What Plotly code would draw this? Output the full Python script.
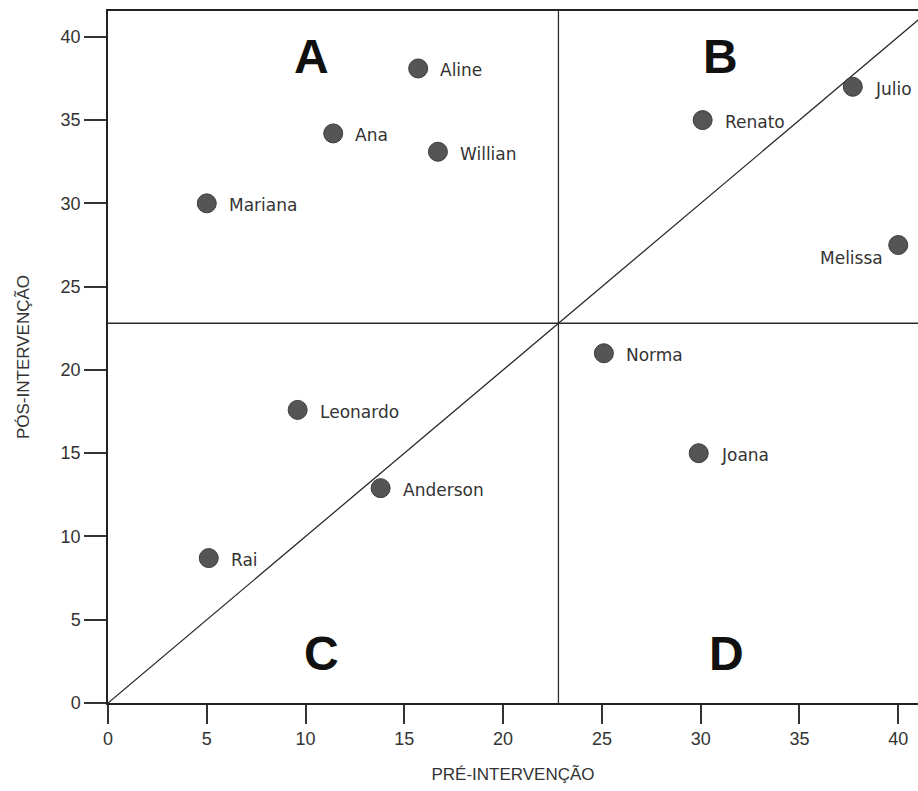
import plotly.graph_objects as go

names = ["Aline", "Ana", "Willian", "Mariana", "Renato", "Julio", "Melissa",
         "Norma", "Joana", "Leonardo", "Anderson", "Rai"]
pre = [15.7, 11.4, 16.7, 5.0, 30.1, 37.7, 40.0, 25.1, 29.9, 9.6, 13.8, 5.1]
pos = [38.1, 34.2, 33.1, 30.0, 35.0, 37.0, 27.5, 21.0, 15.0, 17.6, 12.9, 8.7]

quad_letters = ["A", "B", "C", "D"]
quad_x = [10.3, 31.0, 10.8, 31.3]
quad_y = [38.8, 38.8, 3.0, 3.0]

cut_x = 22.8
cut_y = 22.8
x_ticks = [0, 5, 10, 15, 20, 25, 30, 35, 40]
y_ticks = [0, 5, 10, 15, 20, 25, 30, 35, 40]
x_range = [0, 41.0]
y_range = [0, 41.55]

font_fam = "Liberation Sans, Arial, sans-serif"
label_fam = "DejaVu Sans, sans-serif"
ink = "#333333"

fig = go.Figure()

# identity line
fig.add_trace(go.Scatter(x=[0, 45], y=[0, 45], mode="lines",
                         line=dict(color="#2b2b2b", width=1.3),
                         hoverinfo="skip", showlegend=False))

fig.add_trace(go.Scatter(
    x=pre, y=pos, mode="markers",
    marker=dict(size=19, color="#555555", line=dict(color="#3c3c3c", width=1)),
    text=names, showlegend=False, cliponaxis=False))

# quadrant dividers
fig.add_shape(type="line", xref="x", yref="paper", x0=cut_x, x1=cut_x, y0=0, y1=1,
              line=dict(color="#2b2b2b", width=1.3))
fig.add_shape(type="line", xref="paper", yref="y", x0=0, x1=1, y0=cut_y, y1=cut_y,
              line=dict(color="#2b2b2b", width=1.3))

for n, xv, yv in zip(names, pre, pos):
    if n == "Melissa":
        fig.add_annotation(x=xv, y=yv, text=n, showarrow=False, xanchor="right",
                           yanchor="middle", xshift=-13, yshift=-13,
                           font=dict(family=label_fam, size=17, color=ink))
    else:
        fig.add_annotation(x=xv, y=yv, text=n, showarrow=False, xanchor="left",
                           yanchor="middle", xshift=20, yshift=-2,
                           font=dict(family=label_fam, size=17, color=ink))

for t, xv, yv in zip(quad_letters, quad_x, quad_y):
    fig.add_annotation(x=xv, y=yv, text="<b>" + t + "</b>", showarrow=False,
                       xanchor="center", yanchor="middle",
                       font=dict(family=font_fam, size=48, color="#111111"))

fig.update_layout(
    width=918, height=791,
    margin=dict(l=108, r=0, t=11, b=88),
    paper_bgcolor="white", plot_bgcolor="white",
    font=dict(family=font_fam, color=ink),
)
fig.update_xaxes(
    range=x_range, tickvals=x_ticks, ticks="outside", ticklen=19, tickwidth=1.5,
    tickcolor="#333333", showline=True, linecolor="#222222", linewidth=1.5,
    mirror=True, showgrid=False, zeroline=False,
    tickfont=dict(size=18, color=ink, family=font_fam),
    title=dict(text="PRÉ-INTERVENÇÃO", font=dict(size=17, color=ink, family=font_fam),
               standoff=20),
)
fig.update_yaxes(
    range=y_range, tickvals=y_ticks, ticks="outside", ticklen=22, tickwidth=1.5,
    tickcolor="#333333", showline=True, linecolor="#222222", linewidth=1.5,
    mirror=False, showgrid=False, zeroline=False,
    tickfont=dict(size=18, color=ink, family=font_fam),
    title=dict(text="PÓS-INTERVENÇÃO", font=dict(size=17, color=ink, family=font_fam),
               standoff=27),
)

fig.write_html("out.html",
               config={"displayModeBar": False},
               post_script="document.body.style.margin='0';"
                           "document.body.style.overflow='hidden';")
